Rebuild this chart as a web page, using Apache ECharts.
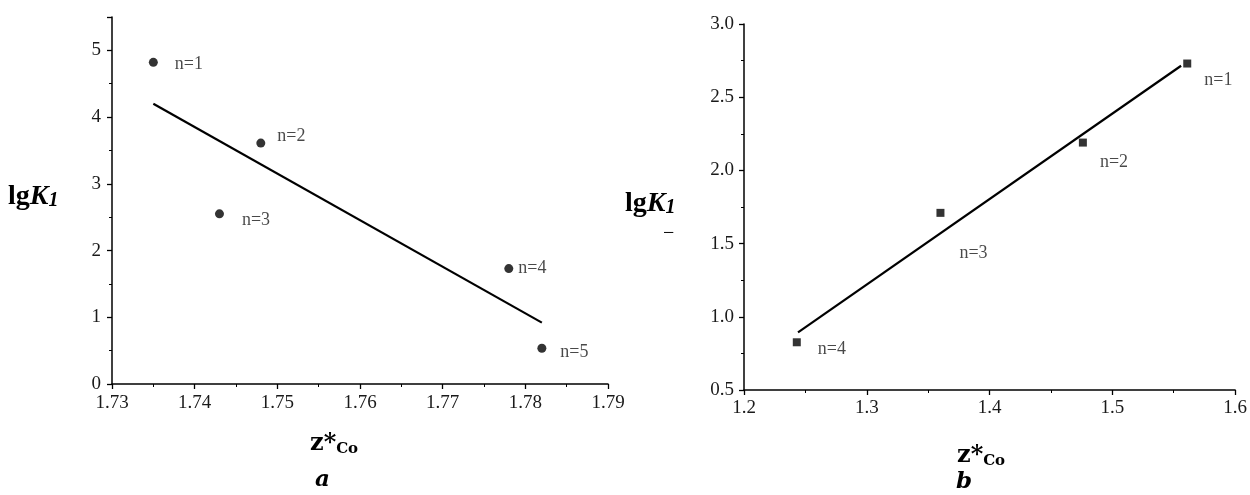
<!doctype html>
<html>
<head>
  <meta charset="UTF-8">
  <title>lgK1 vs z*Co</title>
  <script src="https://cdn.jsdelivr.net/npm/echarts@6/dist/echarts.min.js"></script>
  <style>
    * { margin: 0; padding: 0; }
    body { background: #fff; }
    #chart { width: 1250px; height: 495px; }
  </style>
</head>
<body>
<div id="chart"></div>
<script>
  // panel a
  const zA = [1.735, 1.748, 1.743, 1.778, 1.782]
  const lgKA = [4.82, 3.61, 2.55, 1.73, 0.535]
  const namesA = ['n=1', 'n=2', 'n=3', 'n=4', 'n=5']
  const fitZA = [1.735, 1.782]
  const fitLgKA = [4.2, 0.92]

  // panel b
  const zB = [1.561, 1.476, 1.360, 1.243]
  const lgKB = [2.73, 2.19, 1.71, 0.826]
  const namesB = ['n=1', 'n=2', 'n=3', 'n=4']
  const fitZB = [1.244, 1.556]
  const fitLgKB = [0.894, 2.715]

  // label offsets (px), only styling
  const offA = [[12, 2], [7, -7], [13, 6], [0, 0], [9, 4]]
  const offB = [[8, 17], [8, 20], [10, 40], [12, 7]]

  const serif = 'Liberation Serif'
  const serif2 = 'DejaVu Serif'

  function pts(xs, ys, names, offs) {
    return xs.map((x, i) => ({
      value: [x, ys[i]],
      name: names ? names[i] : '',
      label: offs ? { offset: offs[i] } : undefined
    }))
  }

  function axisBase(margin, fmt) {
    return {
      axisLine: { show: true, onZero: false, lineStyle: { color: '#000', width: 1.5 } },
      axisTick: { show: true, inside: false, length: 5, lineStyle: { color: '#000', width: 1.3 } },
      minorTick: { show: true, splitNumber: 2, length: 3, lineStyle: { color: '#000', width: 1 } },
      splitLine: { show: false },
      axisLabel: { color: '#1a1a1a', fontFamily: serif, fontSize: 19, margin: margin, formatter: fmt }
    }
  }

  const chart = echarts.init(document.getElementById('chart'))

  const labelStyle = {
    show: true, position: 'right', distance: 5,
    formatter: p => p.name, color: '#1a1a1a', fontFamily: serif, fontSize: 18
  }

  const kRich = {
    a: { fontFamily: serif, fontWeight: 'bold', fontSize: 28, fill: '#000' },
    b: { fontFamily: serif, fontWeight: 'bold', fontStyle: 'italic', fontSize: 28, fill: '#000' },
    c: { fontFamily: serif, fontWeight: 'bold', fontStyle: 'italic', fontSize: 20, fill: '#000', padding: [7, 0, 0, 0] }
  }
  const zRich = {
    z: { fontFamily: serif2, fontWeight: 'bold', fontSize: 24, fill: '#000' },
    s: { fontFamily: serif2, fontWeight: 'bold', fontSize: 15, fill: '#000', padding: [10, 0, 0, 0] }
  }

  const yLeft = Object.assign(axisBase(11, v => String(v)), { gridIndex: 0, type: 'value', min: 0, max: 5.5, interval: 1 })
  yLeft.axisLabel.showMaxLabel = false

  const option = {
    backgroundColor: '#fff',
    animation: false,
    grid: [
      { left: 112, top: 17, width: 496, height: 367 },
      { left: 744, top: 24, width: 493, height: 366 }
    ],
    xAxis: [
      Object.assign(axisBase(10, v => v.toFixed(2)), { gridIndex: 0, type: 'value', min: 1.73, max: 1.79, interval: 0.01 }),
      Object.assign(axisBase(9, v => v.toFixed(1)), { gridIndex: 1, type: 'value', min: 1.2, max: 1.6, interval: 0.1 })
    ],
    yAxis: [
      yLeft,
      Object.assign(axisBase(10, v => v.toFixed(1)), { gridIndex: 1, type: 'value', min: 0.5, max: 3.0, interval: 0.5 })
    ],
    series: [
      {
        type: 'scatter', xAxisIndex: 0, yAxisIndex: 0,
        symbol: 'circle', symbolSize: 9,
        itemStyle: { color: '#000' },
        label: labelStyle,
        data: pts(zA, lgKA, namesA, offA)
      },
      {
        type: 'line', xAxisIndex: 0, yAxisIndex: 0,
        showSymbol: false, symbol: 'none',
        lineStyle: { color: '#000', width: 2.2 },
        data: pts(fitZA, fitLgKA)
      },
      {
        type: 'scatter', xAxisIndex: 1, yAxisIndex: 1,
        symbol: 'rect', symbolSize: 8,
        itemStyle: { color: '#000' },
        label: labelStyle,
        data: pts(zB, lgKB, namesB, offB)
      },
      {
        type: 'line', xAxisIndex: 1, yAxisIndex: 1,
        showSymbol: false, symbol: 'none',
        lineStyle: { color: '#000', width: 2.2 },
        data: pts(fitZB, fitLgKB)
      }
    ],
    graphic: [
      // y axis names
      { type: 'text', left: 8, top: 183, style: { text: '{a|lg}{b|K}{c|1}', rich: kRich } },
      { type: 'text', left: 625, top: 190, style: { text: '{a|lg}{b|K}{c|1}', rich: kRich } },
      { type: 'text', left: 663, top: 224, style: { text: '−', fill: '#000', fontFamily: serif, fontSize: 20 } },
      // x axis names
      { type: 'text', left: 310, top: 432, style: { text: '{z|z*}{s|Co}', rich: zRich } },
      { type: 'text', left: 957, top: 444, style: { text: '{z|z*}{s|Co}', rich: zRich } },
      // panel letters
      { type: 'text', left: 315, top: 469,
        style: { text: 'a', fill: '#000', fontFamily: serif2, fontWeight: 'bold', fontStyle: 'italic', fontSize: 23 } },
      { type: 'text', left: 956, top: 471,
        style: { text: 'b', fill: '#000', fontFamily: serif2, fontWeight: 'bold', fontStyle: 'italic', fontSize: 23 } }
    ]
  }

  chart.setOption(option)
</script>
</body>
</html>
